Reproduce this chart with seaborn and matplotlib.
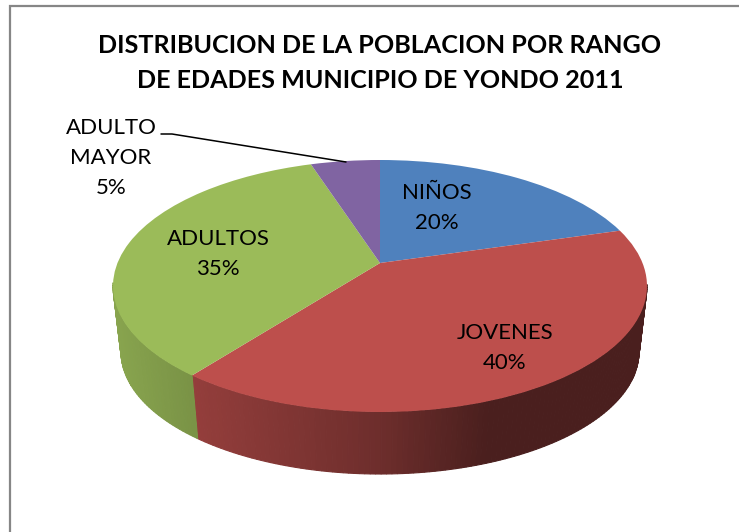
import numpy as np
import seaborn as sns
import matplotlib.pyplot as plt
from matplotlib.transforms import Transform

categories = ['NIÑOS', 'JOVENES', 'ADULTOS', 'ADULTO MAYOR']
# printed percentages, and the slice sizes as measured on the drawn pie
percents = [20, 40, 35, 5]
values = [20.5, 40.0, 34.5, 5.0]
slice_colors = ['#4F81BD', '#BD4F4C', '#9BBB59', '#8064A2']
title = 'DISTRIBUCION DE LA POBLACION POR RANGO\nDE EDADES MUNICIPIO DE YONDO 2011'

sns.set_theme(style='white')
plt.rcParams['font.family'] = ['Lato', 'DejaVu Sans']
palette = sns.color_palette(slice_colors)

# pie apex in pixels and the tilt of the disc
CX, CY = 380, 263
A, B, K = 262.5, 121.8, 0.1825


def tilt(x, y):
    d = 1 + K * y
    return CX + A * x / d, CY - B * y / d


def rim(x, y):
    # lower edge of the pie wall
    px, py = tilt(x, y)
    return CX + 0.97 * (px - CX), 329.5 + 0.97 * (py - CY)


class Tilt(Transform):
    input_dims = output_dims = 2

    def transform_non_affine(self, xy):
        xy = np.asarray(xy)
        px, py = tilt(xy[:, 0], xy[:, 1])
        return np.column_stack([px, py])


fig = plt.figure(figsize=(7.39, 5.32), dpi=100)
ax = fig.add_axes([0, 0, 1, 1])

wedges, _ = ax.pie(values, colors=palette, startangle=90, counterclock=False,
                   radius=1, wedgeprops={'linewidth': 0})
ax.set_aspect('auto')
ax.set_xlim(0, 739)
ax.set_ylim(532, 0)
ax.axis('off')

for w in wedges:
    w.set_transform(Tilt() + ax.transData)
    w.set_clip_on(False)
    w.set_zorder(3)

    # wall of the slice, thin strips so the shading can change along it
    t = np.radians(np.arange(min(w.theta1, w.theta2), max(w.theta1, w.theta2) + 1, 1.0))
    t[-1] = np.radians(max(w.theta1, w.theta2))
    for a, b in zip(t[:-1], t[1:]):
        mid = (a + b) / 2
        if np.sin(mid) > -K * 0.9:
            continue
        x1, y1 = tilt(np.cos([a, b]), np.sin([a, b]))
        x2, y2 = rim(np.cos([b, a]), np.sin([b, a]))
        shade = np.interp(x1.mean(), [113, 195, 380, 490, 647], [0.88, 0.78, 0.58, 0.39, 0.39])
        ax.fill(np.r_[x1, x2], np.r_[y1, y2], color=np.array(w.get_facecolor()[:3]) * shade,
                lw=0.8, zorder=2)

# chart frame, only left and top show in the crop
ax.plot([9.5, 9.5, 739], [532, 5.5, 5.5], color='#868686', lw=1.6, solid_joinstyle='miter', zorder=1)

ax.text(380, 63, title, ha='center', va='center', fontsize=18.1, fontweight='bold',
        color='black', linespacing=1.67)

label_pos = [(437, 208), (505, 348), (218, 254), (111, 158)]
for cat, pct, (lx, ly) in zip(categories, percents, label_pos):
    ax.text(lx, ly, f"{cat.replace(' ', chr(10))}\n{pct}%", ha='center', va='center',
            fontsize=16, color='black', linespacing=1.62, zorder=5)

ax.plot([161, 172, 346], [134, 134, 162], color='black', lw=1.1, zorder=4)

fig.savefig('out.png', dpi=100)
